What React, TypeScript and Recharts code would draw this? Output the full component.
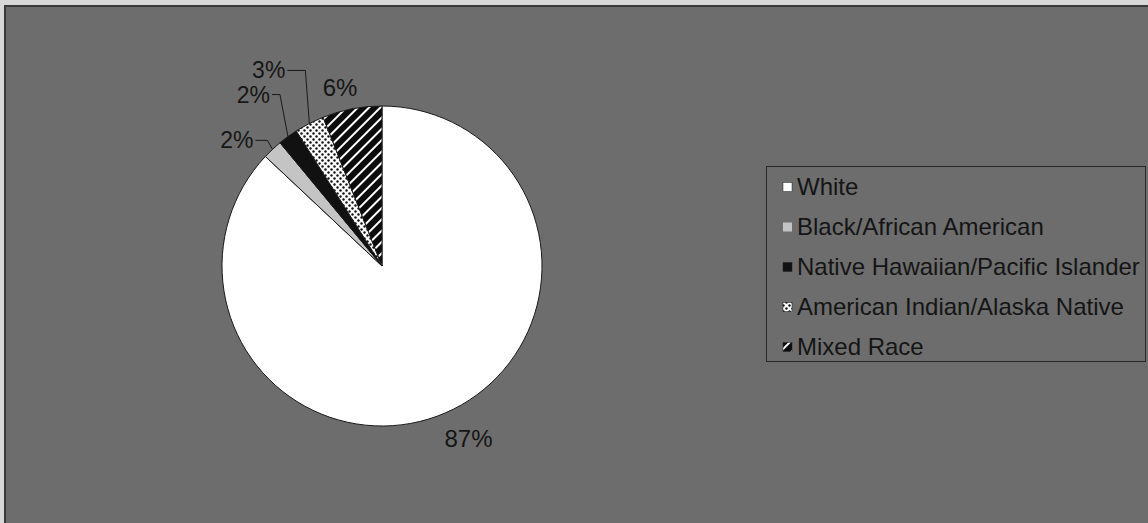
import { PieChart, Pie, Cell, Legend } from 'recharts';

// ── Datos ─────────────────────────────────────────────────────────────────────

const categories = [
  'White',
  'Black/African American',
  'Native Hawaiian/Pacific Islander',
  'American Indian/Alaska Native',
  'Mixed Race',
];
const shares = [87, 2, 2, 3, 6];
const fills = ['#ffffff', '#c4c4c4', '#111111', 'url(#dots)', 'url(#hatch)'];

const data = categories.map((name, i) => ({ name, value: shares[i] }));

const RAD = Math.PI / 180;
const FONT = '"Liberation Sans", Arial, sans-serif';

// offsets from the slice edge point for each label
// leader: elbow offset + horizontal run; plain: text offset
const labelLayout = [
  { dx: 23, dy: 26 },
  { ex: -5, ey: -9, run: 12 },
  { ex: -8, ey: -42, run: 8 },
  { ex: -4, ey: -53, run: 18 },
  { dx: -12, dy: -21 },
];

// ── Etiquetas ────────────────────────────────────────────────────────────────

const renderLabel = (props: any) => {
  const { cx, cy, midAngle, outerRadius, index, value } = props;
  const px = cx + outerRadius * Math.cos(-midAngle * RAD);
  const py = cy + outerRadius * Math.sin(-midAngle * RAD);
  const lay: any = labelLayout[index];
  const txt = `${value}%`;

  if (lay.ex !== undefined) {
    const ex = px + lay.ex;
    const ey = py + lay.ey;
    const lx = ex - lay.run;
    return (
      <g>
        <polyline
          points={`${px},${py} ${ex},${ey} ${lx},${ey}`}
          fill="none"
          stroke="#1a1a1a"
          strokeWidth={1}
        />
        <text
          x={lx - 2}
          y={ey}
          textAnchor="end"
          dominantBaseline="central"
          fill="#161616"
          fontSize={23}
          fontFamily={FONT}
        >
          {txt}
        </text>
      </g>
    );
  }

  return (
    <text
      x={px + lay.dx}
      y={py + lay.dy}
      textAnchor="middle"
      dominantBaseline="central"
      fill="#161616"
      fontSize={24}
      fontFamily={FONT}
    >
      {txt}
    </text>
  );
};

// ── Leyenda ─────────────────────────────────────────────────────────────────

const LegendBox = () => (
  <div
    style={{
      width: 380,
      height: 196,
      border: '1px solid #2a2a2a',
      boxSizing: 'border-box',
      fontFamily: FONT,
      fontSize: 24,
      color: '#151515',
    }}
  >
    {categories.map((name, i) => (
      <div key={name} style={{ height: 40, display: 'flex', alignItems: 'center' }}>
        <svg width={30} height={12} style={{ flex: 'none' }}>
          <rect
            x={16}
            y={1.5}
            width={9}
            height={9}
            fill={fills[i]}
            stroke={i === 1 ? 'none' : '#222'}
            strokeWidth={0.5}
          />
        </svg>
        <span style={{ whiteSpace: 'nowrap', lineHeight: '40px' }}>{name}</span>
      </div>
    ))}
  </div>
);

// ── Componente principal ──────────────────────────────────────────────────────

export default function App() {
  return (
    <div
      style={{
        position: 'absolute',
        left: 0,
        top: 0,
        width: 1148,
        height: 523,
        background: '#d8d8d8',
        overflow: 'hidden',
      }}
    >
      <div
        style={{
          position: 'absolute',
          left: 4,
          top: 5,
          width: 1160,
          height: 540,
          background: '#6d6d6d',
          border: '2px solid #3a3a3a',
        }}
      />
      <div style={{ position: 'absolute', left: 0, top: 0 }}>
        <PieChart width={1148} height={523}>
          <defs>
            <pattern id="dots" width={6} height={6} patternUnits="userSpaceOnUse">
              <rect width={6} height={6} fill="#ffffff" />
              <circle cx={1.5} cy={1.5} r={1.2} fill="#111" />
              <circle cx={4.5} cy={4.5} r={1.2} fill="#111" />
            </pattern>
            <pattern
              id="hatch"
              width={8}
              height={8}
              patternUnits="userSpaceOnUse"
              patternTransform="rotate(45)"
            >
              <rect width={8} height={8} fill="#0c0c0c" />
              <rect x={0} y={0} width={2} height={8} fill="#ffffff" />
            </pattern>
          </defs>
          <Pie
            data={data}
            dataKey="value"
            nameKey="name"
            cx={377}
            cy={261}
            outerRadius={160}
            startAngle={90}
            endAngle={-270}
            stroke="#1a1a1a"
            strokeWidth={1}
            label={renderLabel}
            labelLine={false}
            isAnimationActive={false}
          >
            {data.map((d, i) => (
              <Cell key={d.name} fill={fills[i]} />
            ))}
          </Pie>
          <Legend
            content={() => <LegendBox />}
            wrapperStyle={{ position: 'absolute', left: 766, top: 166, width: 380, height: 196 }}
          />
        </PieChart>
      </div>
    </div>
  );
}
